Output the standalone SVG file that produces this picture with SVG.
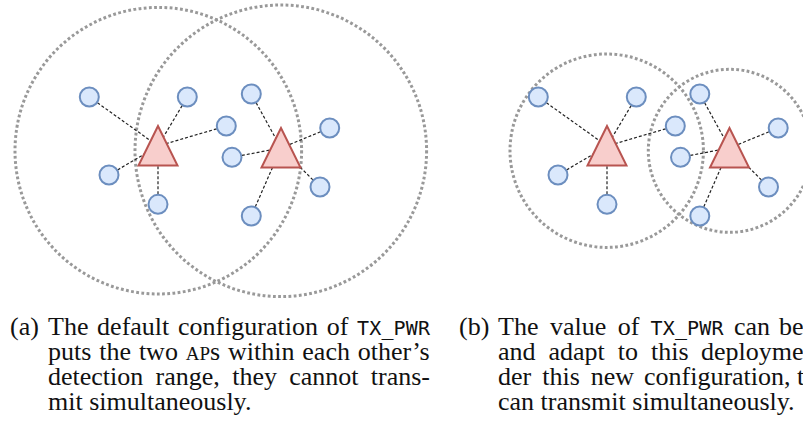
<svg xmlns="http://www.w3.org/2000/svg" width="803" height="436" viewBox="0 0 803 436">
<style>
.range{fill:none;stroke:#999;stroke-width:3;stroke-dasharray:2.8 2.4}
.link{stroke:#222;stroke-width:1.2;stroke-dasharray:3 2;fill:none}
.ap{fill:#f8cecc;stroke:#b85450;stroke-width:2;stroke-linejoin:miter}
.sta{fill:#dae8fc;stroke:#6c8ebf;stroke-width:2}
.cap{font-family:"Liberation Serif","Times New Roman",serif;font-size:26px;fill:#111}
.mono{font-family:"DejaVu Sans Mono",monospace;font-size:20px}
.sc{font-size:19px}
</style>
<rect width="803" height="436" fill="#fff"/>
<g id="ranges">
<circle id="range-a1" class="range" cx="158.3" cy="150.7" r="143.3"/>
<circle id="range-a2" class="range" cx="280.8" cy="150.8" r="145.8"/>
<circle id="range-b1" class="range" cx="606.7" cy="150.7" r="96.7"/>
<circle id="range-b2" class="range" cx="729.8" cy="150.8" r="81.5"/>
</g>
<g id="connectors">
<line class="link" x1="89.3" y1="97" x2="158" y2="146"/>
<line class="link" x1="187.3" y1="97" x2="158" y2="146"/>
<line class="link" x1="226.3" y1="126" x2="158" y2="146"/>
<line class="link" x1="109" y1="175" x2="158" y2="146"/>
<line class="link" x1="158" y1="204.3" x2="158" y2="146"/>
<line class="link" x1="251.3" y1="94" x2="281" y2="148"/>
<line class="link" x1="329.7" y1="128" x2="281" y2="148"/>
<line class="link" x1="232" y1="157.3" x2="281" y2="148"/>
<line class="link" x1="320" y1="187" x2="281" y2="148"/>
<line class="link" x1="251.3" y1="216" x2="281" y2="148"/>
<line class="link" x1="538.3" y1="97" x2="607" y2="146"/>
<line class="link" x1="636.3" y1="97" x2="607" y2="146"/>
<line class="link" x1="675.3" y1="126" x2="607" y2="146"/>
<line class="link" x1="558" y1="175" x2="607" y2="146"/>
<line class="link" x1="607" y1="204.3" x2="607" y2="146"/>
<line class="link" x1="699.8" y1="94" x2="729.5" y2="148"/>
<line class="link" x1="778.2" y1="128" x2="729.5" y2="148"/>
<line class="link" x1="680.5" y1="157.3" x2="729.5" y2="148"/>
<line class="link" x1="768.5" y1="187" x2="729.5" y2="148"/>
<line class="link" x1="699.8" y1="216" x2="729.5" y2="148"/>
</g>
<g id="ap-a1"><polygon class="ap" points="158,126 138.5,165.5 177.5,165.5"/></g>
<g id="ap-a2"><polygon class="ap" points="281,128 261.5,167.5 300.5,167.5"/></g>
<g id="ap-b1"><polygon class="ap" points="607,126 587.5,165.5 626.5,165.5"/></g>
<g id="ap-b2"><polygon class="ap" points="729.5,128 710,167.5 749,167.5"/></g>
<g id="sta-a1"><circle class="sta" cx="89.3" cy="97" r="9.5"/></g>
<g id="sta-a2"><circle class="sta" cx="187.3" cy="97" r="9.5"/></g>
<g id="sta-a3"><circle class="sta" cx="226.3" cy="126" r="9.5"/></g>
<g id="sta-a4"><circle class="sta" cx="109" cy="175" r="9.5"/></g>
<g id="sta-a5"><circle class="sta" cx="158" cy="204.3" r="9.5"/></g>
<g id="sta-a6"><circle class="sta" cx="251.3" cy="94" r="9.5"/></g>
<g id="sta-a7"><circle class="sta" cx="329.7" cy="128" r="9.5"/></g>
<g id="sta-a8"><circle class="sta" cx="232" cy="157.3" r="9.5"/></g>
<g id="sta-a9"><circle class="sta" cx="320" cy="187" r="9.5"/></g>
<g id="sta-a10"><circle class="sta" cx="251.3" cy="216" r="9.5"/></g>
<g id="sta-b1"><circle class="sta" cx="538.3" cy="97" r="9.5"/></g>
<g id="sta-b2"><circle class="sta" cx="636.3" cy="97" r="9.5"/></g>
<g id="sta-b3"><circle class="sta" cx="675.3" cy="126" r="9.5"/></g>
<g id="sta-b4"><circle class="sta" cx="558" cy="175" r="9.5"/></g>
<g id="sta-b5"><circle class="sta" cx="607" cy="204.3" r="9.5"/></g>
<g id="sta-b6"><circle class="sta" cx="699.8" cy="94" r="9.5"/></g>
<g id="sta-b7"><circle class="sta" cx="778.2" cy="128" r="9.5"/></g>
<g id="sta-b8"><circle class="sta" cx="680.5" cy="157.3" r="9.5"/></g>
<g id="sta-b9"><circle class="sta" cx="768.5" cy="187" r="9.5"/></g>
<g id="sta-b10"><circle class="sta" cx="699.8" cy="216" r="9.5"/></g>
<g id="caption-a" class="cap">
<text x="10" y="335">(a)</text>
<text x="48" y="335">The<tspan x="97.1">default</tspan><tspan x="177.9">configuration</tspan><tspan x="326.7">of</tspan><tspan x="357" class="mono" textLength="73">TX_PWR</tspan></text>
<text x="48" y="360">puts<tspan x="99.2">the</tspan><tspan x="138.9">two</tspan><tspan x="185.7" class="sc">AP</tspan><tspan>s</tspan><tspan x="228">within</tspan><tspan x="302.3">each</tspan><tspan x="357.8">other’s</tspan></text>
<text x="48" y="385">detection<tspan x="155.6">range,</tspan><tspan x="232.2">they</tspan><tspan x="289.2">cannot</tspan><tspan x="370.8">trans-</tspan></text>
<text x="48" y="410">mit simultaneously.</text>
</g>
<g id="caption-b" class="cap">
<text x="459" y="335">(b)</text>
<text x="498" y="335">The<tspan x="549.9">value</tspan><tspan x="617.7">of</tspan><tspan x="650.5" class="mono" textLength="73">TX_PWR</tspan><tspan x="734">can</tspan><tspan x="779">be</tspan></text>
<text x="498" y="360">and<tspan x="548.5">adapt</tspan><tspan x="617.8">to</tspan><tspan x="651">this</tspan><tspan x="701">deployme</tspan></text>
<text x="498" y="385">der<tspan x="542.2">this</tspan><tspan x="590.8">new</tspan><tspan x="644">configuration,</tspan><tspan x="797">t</tspan></text>
<text x="498" y="410">can transmit simultaneously.</text>
</g>
</svg>
